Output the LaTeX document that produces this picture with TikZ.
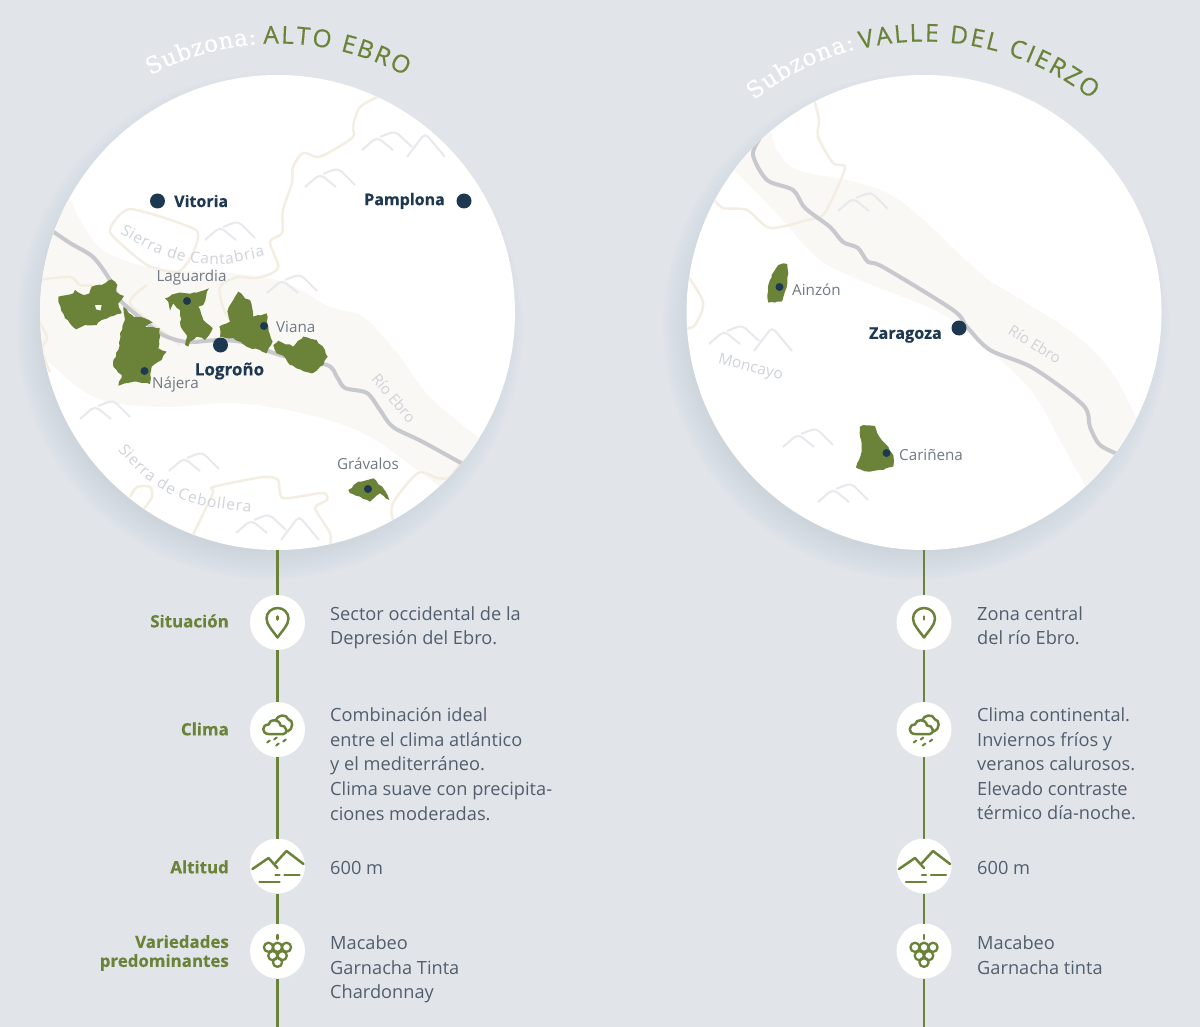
\documentclass[tikz,border=0pt]{standalone}
\usepackage{fontspec}
\setmainfont{Open Sans}[BoldFeatures={FakeBold=0.4}]
\newfontfamily\titlesans{Open Sans}[FakeBold=0.5]
\newfontfamily\titleserif{DejaVu Serif}[FakeBold=0.4]
\usetikzlibrary{decorations.text, decorations.pathmorphing}
\definecolor{pagegrey}{RGB}{225, 229, 234}
\definecolor{wine}{RGB}{106, 131, 56}
\definecolor{navy}{RGB}{31, 56, 82}
\definecolor{bodytext}{RGB}{82, 94, 108}
\definecolor{placetext}{RGB}{112, 121, 132}
\definecolor{faintgrey}{RGB}{208, 211, 217}
\definecolor{peakgrey}{RGB}{231, 233, 237}
\definecolor{bandcream}{RGB}{250, 248, 244}
\definecolor{bordercream}{RGB}{243, 237, 226}
\definecolor{rivergrey}{RGB}{200, 201, 206}
\definecolor{shadowblue}{RGB}{165, 175, 190}

\tikzset{
  mapcircle/.style={circle, fill=white, minimum size=475pt, inner sep=0pt, outer sep=0pt},
  iconcircle/.style={circle, fill=white, minimum size=55pt, inner sep=0pt, outer sep=0pt},
  stem/.style={draw=wine, line width=2.8pt},
  icon/.style={draw=wine, line width=2.5pt, line cap=round, line join=round},
  band/.style={fill=bandcream},
  river/.style={draw=rivergrey, line width=4pt, line join=round},
  frontier/.style={draw=bordercream, line width=2.4pt, line join=round},
  peak/.style={draw=peakgrey, line width=2pt, rounded corners=5pt},
  zone/.style={fill=wine, even odd rule, decorate, decoration={random steps, segment length=4pt, amplitude=0.9pt}},
  bigdot/.style={circle, fill=navy, minimum size=15pt, inner sep=0pt},
  smalldot/.style={circle, fill=navy, minimum size=8pt, inner sep=0pt},
  city/.style={font=\fontsize{16}{20}\selectfont\bfseries, text=navy, inner sep=0pt},
  place/.style={font=\fontsize{15.2}{20}\selectfont, text=placetext, inner sep=0pt},
  faint/.style={font=\fontsize{15.5}{20}\selectfont, text=faintgrey, inner sep=0pt},
  rowlabel/.style={font=\fontsize{16.9}{19}\selectfont\bfseries, text=wine, align=right, anchor=east, inner sep=0pt},
  rowtext/.style={font=\fontsize{18.2}{24.6}\selectfont, text=bodytext, align=left, anchor=north west, inner sep=0pt},
  pics/twopeak/.style={code={
    \draw[peak] (0,0) -- (15,-13) -- (31,0);
    \draw[peak] (18,-13) -- (33,-19) -- (50,-2);
  }},
  pics/threepeak/.style={code={
    \draw[peak] (0,0) -- (15,-13) -- (31,0);
    \draw[peak] (18,-13) -- (33,-19) -- (50,-3);
    \draw[peak] (45,7) -- (63,-17) -- (83,7);
  }},
  pics/pinicon/.style={code={
    \draw[icon] (0,15) .. controls (-5,8) and (-11,2) .. (-11,-4) .. controls (-11,-10) and (-6,-14.5) .. (0,-14.5)
      .. controls (6,-14.5) and (11,-10) .. (11,-4) .. controls (11,2) and (5,8) .. cycle;
    \draw[icon] (0,-6) -- (0,-3);
  }},
  pics/rainicon/.style={code={
    \draw[icon] (-9,4.5) .. controls (-16,4.5) and (-16,-5) .. (-9,-5) .. controls (-8,-11) and (2,-11) .. (3,-4)
      .. controls (9,-5) and (11,4.5) .. (6,4.5) -- cycle;
    \draw[icon] (-2,-9) .. controls (0,-15) and (9,-16) .. (11,-10) .. controls (16,-10) and (16,0) .. (10,2);
    \foreach \dropx/\dropy in {-9/12, -2/9, 0/15, 7/11}
      \draw[icon, line width=2pt] (\dropx-1.3,\dropy+1) -- (\dropx+1.3,\dropy-1);
  }},
  pics/alticon/.style={code={
    \draw[icon] (-25,3) -- (-9,-8) -- (0,2);
    \draw[icon] (-2,-3) -- (9,-15) -- (26,-2);
    \draw[icon] (-2,9) -- (2,9);
    \draw[icon] (7,9) -- (22,9);
    \draw[icon] (-18,16) -- (2,16);
  }},
  pics/grapeicon/.style={code={
    \draw[icon] (0,-16) -- (0,-12);
    \foreach \grapex/\grapey in {-9/-3.7, 0/-3.7, 9/-3.7, -4.7/4.7, 4.7/4.7, 0/11.3}
      \draw[icon, line width=2.3pt] (\grapex,\grapey) circle (4.6);
  }},
}

\begin{document}
\begin{tikzpicture}[x=1pt, y=-1pt]
  \pgfmathsetseed{11}
  \useasboundingbox (0,0) rectangle (1200,1027);
  \fill[pagegrey] (0,0) rectangle (1200,1027);

  % Soft shadows under the two maps
  \foreach \mapx in {277.5, 924}
    \foreach \i in {1,...,15}
      \fill[shadowblue, opacity=0.02] (\mapx-8,326.5) circle ({223+2*\i});

  \node[mapcircle] (mapalto) at (277.5,312.5) {};
  \node[mapcircle] (mapcierzo) at (924,312.5) {};

  % Titles
  \path[decorate, decoration={text along path, text align={fit to path},
      text={|\titleserif\fontsize{23}{26}\selectfont\color{white}|Subzona:}}]
    plot[domain=118.2:94.4, samples=40] ({277.5+269*cos(\x)}, {312.5-269*sin(\x)});
  \path[decorate, decoration={text along path, text align={fit to path},
      text={|\titlesans\fontsize{24.5}{26}\selectfont\color{wine}|ALTO EBRO}}]
    plot[domain=93:61.6, samples=40] ({277.5+269*cos(\x)}, {312.5-269*sin(\x)});
  \path[decorate, decoration={text along path, text align={fit to path},
      text={|\titleserif\fontsize{23}{26}\selectfont\color{white}|Subzona:}}]
    plot[domain=128.7:104.6, samples=40] ({924+272*cos(\x)}, {312.5-272*sin(\x)});
  \path[decorate, decoration={text along path, text align={fit to path},
      text={|\titlesans\fontsize{24.5}{26}\selectfont\color{wine}|VALLE DEL CIERZO}}]
    plot[domain=103.5:51.8, samples=60] ({924+271*cos(\x)}, {312.5-271*sin(\x)});

  % Map: Alto Ebro
  \begin{scope}
    \clip (277.5,312.5) circle (237.5);
    \fill[band] plot[smooth, tension=0.6] coordinates {(60,180) (70,198) (80,220) (103,250) (153,268) (230,273) (283,282) (330,307) (363,317) (397,353) (430,397) (478,437) (500,450)}
      -- (500,520) -- plot[smooth, tension=0.6] coordinates {(440,487) (417,470) (363,433) (297,412) (230,403) (163,407) (97,398) (50,363) (20,330)} -- cycle;
    \draw[frontier] plot[smooth, tension=0.5] coordinates {(382,95) (360,107) (353,127) (353,137) (330,152) (317,157) (303,153) (293,167) (292,183) (283,210) (282,233) (270,242) (278,268) (257,278) (237,277) (220,287) (223,307) (230,320)};
    \draw[frontier] plot[smooth cycle, tension=0.35] coordinates {(130,209) (196,230) (192,255) (178,272) (147,265) (110,232)};
    \draw[frontier] plot[smooth, tension=0.5] coordinates {(38,280) (70,277) (80,285) (95,285)};
    \draw[frontier] plot[smooth, tension=0.5] coordinates {(147,285) (130,303) (157,327) (180,345)};
    \draw[frontier] plot[smooth, tension=0.5] coordinates {(38,320) (47,337) (42,350) (50,372)};
    \draw[frontier] plot[smooth, tension=0.4] coordinates {(193,535) (213,493) (213,487) (263,477) (278,480) (283,498) (323,493) (327,500) (315,508) (330,533) (330,548)};
    \draw[frontier] plot[smooth, tension=0.5] coordinates {(130,497) (137,487) (150,487) (152,497) (143,510)};
    \draw[frontier] plot[smooth, tension=0.5] coordinates {(393,520) (393,503) (418,473) (437,478) (450,477) (462,460)};
    \draw[river] plot[smooth, tension=0.5] coordinates {(45,226) (70,243) (93,257) (110,280) (120,300) (143,320) (163,335) (187,342) (220,340) (247,343) (280,355) (327,365) (337,377) (345,388) (367,393) (380,410) (393,427) (423,442) (470,468)};
  \end{scope}
  \pic at (362,150) {threepeak};
  \pic at (305,187) {twopeak};
  \pic at (205,240) {twopeak};
  \pic at (267,293) {twopeak};
  \pic at (80,419) {twopeak};
  \pic at (169,471) {twopeak};
  \pic at (236,533) {threepeak};

  % Zones of Alto Ebro, in thirds of a pixel
  \begin{scope}[shift={(30,270)}, scale=0.3333]
    \fill[zone] (85,80) -- (130,70) -- (135,60) -- (160,75) -- (178,70) -- (185,50) -- (215,45) -- (245,28) -- (262,45) -- (258,65) -- (282,78) -- (265,100) -- (275,130) -- (240,140) -- (215,150) -- (200,165) -- (165,165) -- (138,178) -- (105,145) -- (85,95) -- cycle
      (195,105) -- (215,105) -- (212,122) -- (198,118) -- cycle;
    \fill[zone] (280,110) -- (310,140) -- (345,145) -- (368,158) -- (345,170) -- (390,175) -- (385,235) -- (410,245) -- (395,270) -- (365,290) -- (360,342) -- (320,335) -- (265,347) -- (275,315) -- (250,290) -- (250,270) -- (265,240) -- (270,190) -- (285,150) -- cycle;
    \fill[zone] (405,85) -- (440,70) -- (470,70) -- (500,68) -- (537,55) -- (520,105) -- (505,110) -- (520,150) -- (548,175) -- (525,210) -- (500,200) -- (480,215) -- (475,230) -- (465,225) -- (470,195) -- (452,170) -- (450,120) -- (430,100) -- (420,122) -- (415,95) -- cycle;
    \fill[zone] (625,65) -- (645,85) -- (660,90) -- (670,140) -- (710,130) -- (715,170) -- (728,215) -- (710,250) -- (690,240) -- (650,230) -- (610,205) -- (570,200) -- (568,170) -- (600,155) -- (592,125) -- (610,90) -- cycle;
    \fill[zone] (730,225) -- (745,212) -- (790,230) -- (820,200) -- (860,210) -- (885,240) -- (893,260) -- (880,285) -- (845,310) -- (810,298) -- (780,285) -- (765,262) -- (740,250) -- cycle;
    \fill[zone] (955,660) -- (985,635) -- (1030,625) -- (1060,655) -- (1078,690) -- (1050,670) -- (1020,695) -- (990,680) -- (960,670) -- cycle;
  \end{scope}

  \node[bigdot] (vitoria) at (157.5,201) {};
  \node[city, anchor=west] (vitorialabel) at (174,201) {Vitoria};
  \node[bigdot] (pamplona) at (464,201) {};
  \node[city, anchor=east] (pamplonalabel) at (445,201) {Pamplona};
  \node[bigdot] (logrono) at (220.5,345) {};
  \node[city, font=\fontsize{17}{20}\selectfont\bfseries] (logronolabel) at (229.5,371) {Logroño};
  \node[smalldot] (laguardia) at (187,301) {};
  \node[place] (laguardialabel) at (191.5,278) {Laguardia};
  \node[smalldot] (viana) at (264,326) {};
  \node[place, anchor=west] (vianalabel) at (276,326.5) {Viana};
  \node[smalldot] (najera) at (144.5,371) {};
  \node[place, anchor=west] (najeralabel) at (152,384.5) {Nájera};
  \node[smalldot] (gravalos) at (368,489) {};
  \node[place] (gravaloslabel) at (368,463.5) {Grávalos};
  \path[decorate, decoration={text along path, text align={fit to path},
      text={|\fontsize{15.5}{20}\selectfont\color{faintgrey}|Sierra de Cantabria}}]
    plot[smooth] coordinates {(120,233) (150,250) (187,262) (225,264) (265,256)};
  \path[decorate, decoration={text along path, text align={fit to path},
      text={|\fontsize{15.5}{20}\selectfont\color{faintgrey}|Sierra de Cebollera}}]
    plot[smooth] coordinates {(118,450) (145,478) (180,499) (215,508) (251,512)};
  \node[faint, rotate=-50, font=\fontsize{15}{18}\selectfont] (rioalto) at (394,398) {Río Ebro};

  % Map: Valle del Cierzo
  \begin{scope}
    \clip (924,312.5) circle (237.5);
    \fill[band] plot[smooth, tension=0.6] coordinates {(768,120) (771,132) (777,150) (797,170) (847,180) (887,193) (920,217) (980,273) (1013,295) (1073,333) (1110,370) (1137,420) (1150,460)}
      -- (1150,520) -- (1095,505) -- plot[smooth, tension=0.6] coordinates {(1085,485) (1060,440) (1033,393) (997,357) (947,317) (893,293) (867,283) (820,260) (780,217) (735,170) (720,155)} -- cycle;
    \draw[frontier] plot[smooth, tension=0.45] coordinates {(813,95) (819,120) (818,137) (833,163) (845,167) (835,193) (823,215) (807,220) (770,228) (747,210) (723,208) (712,197)};
    \draw[frontier] plot[smooth, tension=0.5] coordinates {(685,272) (703,302) (695,325) (685,329)};
    \draw[river] plot[smooth, tension=0.5] coordinates {(760,138) (753,155) (767,180) (793,190) (805,208) (830,227) (843,242) (858,248) (868,262) (883,267) (953,310) (967,327) (990,350) (1033,368) (1083,405) (1090,427) (1100,445) (1122,456)};
  \end{scope}
  \pic at (838,211) {twopeak};
  \pic at (709,344) {threepeak};
  \pic at (783,447) {twopeak};
  \pic at (818,502) {twopeak};

  % Zones of Valle del Cierzo
  \begin{scope}[shift={(680,20)}, scale=0.3333]
    \fill[zone] (295,735) -- (310,730) -- (322,732) -- (325,760) -- (322,790) -- (315,815) -- (305,845) -- (285,848) -- (265,848) -- (262,825) -- (265,795) -- (275,765) -- cycle;
  \end{scope}
  \begin{scope}[shift={(680,270)}, scale=0.3333]
    \fill[zone] (540,470) -- (560,466) -- (585,468) -- (592,490) -- (605,510) -- (625,530) -- (640,555) -- (642,575) -- (640,590) -- (610,600) -- (570,605) -- (545,600) -- (528,592) -- (537,570) -- (545,545) -- (540,500) -- cycle;
  \end{scope}

  \node[bigdot] (zaragoza) at (959,328) {};
  \node[city, anchor=east, font=\fontsize{16.2}{20}\selectfont\bfseries] (zaragozalabel) at (942,335) {Zaragoza};
  \node[smalldot] (ainzon) at (779.5,287) {};
  \node[place, anchor=west] (ainzonlabel) at (792,289.5) {Ainzón};
  \node[smalldot] (carinena) at (886.5,453) {};
  \node[place, anchor=west] (carinenalabel) at (899,455) {Cariñena};
  \node[faint, rotate=-32, font=\fontsize{15}{18}\selectfont] (riocierzo) at (1035,344) {Río Ebro};
  \node[faint, rotate=-14] (moncayo) at (750.5,368) {Moncayo};

  % Left column
  \node[iconcircle] (sitalto) at (277.5,622.5) {};
  \node[iconcircle] (climaalto) at (277.5,729.5) {};
  \node[iconcircle] (altalto) at (277.5,866) {};
  \node[iconcircle] (varalto) at (277.5,951) {};
  \coordinate (endalto) at (277.5,1027);
  \draw[stem] (mapalto) -- (sitalto);
  \draw[stem] (sitalto) -- (climaalto);
  \draw[stem] (climaalto) -- (altalto);
  \draw[stem] (altalto) -- (varalto);
  \draw[stem] (varalto) -- (endalto);
  \pic at (sitalto) {pinicon};
  \pic at (climaalto) {rainicon};
  \pic at (altalto) {alticon};
  \pic at (varalto) {grapeicon};

  \node[rowlabel] (sitaltolabel) at (229,621) {Situación};
  \node[rowlabel] (climaaltolabel) at (229,729) {Clima};
  \node[rowlabel] (altaltolabel) at (229,867) {Altitud};
  \node[rowlabel] (varaltolabel) at (229,953) {Variedades\\predominantes};
  \node[rowtext] (sitaltotext) at (330,606) {Sector occidental de la\\Depresión del Ebro.};
  \node[rowtext] (climaaltotext) at (330,707.5) {Combinación ideal\\entre el clima atlántico\\y el mediterráneo.\\Clima suave con precipita-\\ciones moderadas.};
  \node[rowtext] (altaltotext) at (330,861) {600 m};
  \node[rowtext] (varaltotext) at (330,935.5) {Macabeo\\Garnacha Tinta\\Chardonnay};

  % Right column
  \node[iconcircle] (sitcierzo) at (924,622.5) {};
  \node[iconcircle] (climacierzo) at (924,729.5) {};
  \node[iconcircle] (altcierzo) at (924,866) {};
  \node[iconcircle] (varcierzo) at (924,951) {};
  \coordinate (endcierzo) at (924,1027);
  \draw[stem] (mapcierzo) -- (sitcierzo);
  \draw[stem] (sitcierzo) -- (climacierzo);
  \draw[stem] (climacierzo) -- (altcierzo);
  \draw[stem] (altcierzo) -- (varcierzo);
  \draw[stem] (varcierzo) -- (endcierzo);
  \pic at (sitcierzo) {pinicon};
  \pic at (climacierzo) {rainicon};
  \pic at (altcierzo) {alticon};
  \pic at (varcierzo) {grapeicon};

  \node[rowtext] (sitcierzotext) at (977,606) {Zona central\\del río Ebro.};
  \node[rowtext] (climacierzotext) at (977,707.5) {Clima continental.\\Inviernos fríos y\\veranos calurosos.\\Elevado contraste\\térmico día-noche.};
  \node[rowtext] (altcierzotext) at (977,861) {600 m};
  \node[rowtext] (varcierzotext) at (977,935.5) {Macabeo\\Garnacha tinta};
\end{tikzpicture}
\end{document}
